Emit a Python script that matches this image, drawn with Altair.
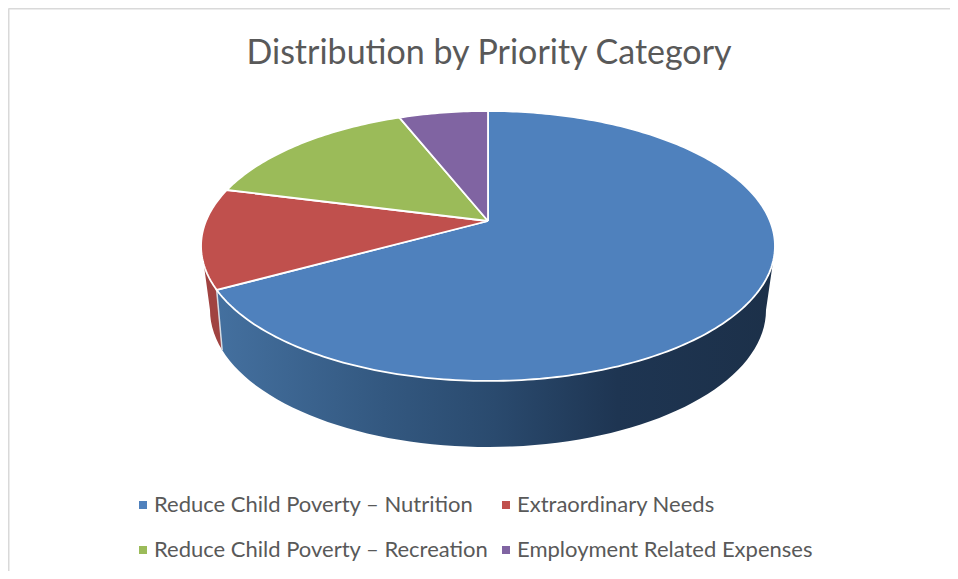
import numpy as np
import pandas as pd
import altair as alt

categories = ["Reduce Child Poverty – Nutrition", "Extraordinary Needs",
              "Reduce Child Poverty – Recreation", "Employment Related Expenses"]
values = [67, 12, 15, 6]
colors = ["#4f81bd", "#c0504d", "#9bbb59", "#8064a2"]
title_text = "Distribution by Priority Category"

W, H = 942, 563
M = 8
CX, CY = 488 - M, 246 - M
A, B, C, P = 282.0, 135.0, 25.0, 0.185
BX, BY, BCY = 278.0, 137.0, 310 - M


def top(theta):
    t = np.radians(theta)
    u, v = np.sin(t), np.cos(t)
    d = 1 + P * v
    return CX + A * u / d, CY - (B * v + C) / d


def bottom(phi):
    t = np.radians(phi)
    return CX + BX * np.sin(t), BCY - BY * np.cos(t)


def frame(xs, ys, name=None):
    xs, ys = np.asarray(xs), np.asarray(ys)
    d = pd.DataFrame({"x": xs, "y": ys, "i": np.arange(len(xs))})
    if name is not None:
        d["name"] = name
    return d


# top face wedges, from the values
rows = []
edges = 360 * np.cumsum([0] + values) / sum(values)
apex = (CX, CY - C)
for name, a0, a1 in zip(categories, edges[:-1], edges[1:]):
    th = np.linspace(a0, a1, int(a1 - a0) + 2)
    px, py = top(th)
    xs = [apex[0], *px, apex[0]]
    ys = [apex[1], *py, apex[1]]
    rows.append(frame(xs, ys, name))
wedges = pd.concat(rows, ignore_index=True)

split = edges[1]
# blue wall
th = np.linspace(107, split, 70)
phi = np.linspace(253, 90, 70)
tx, ty = top(th)
bx, by = bottom(phi)
blue_wall = frame([*tx, *bx, tx[0]], [*ty, *by, ty[0]])
# red wall
th = np.linspace(split, 251.5, 8)
phi = np.linspace(270, 253, 8)
tx, ty = top(th)
bx, by = bottom(phi)
red_wall = frame([*tx, *bx, tx[0]], [*ty, *by, ty[0]])
# seam between the walls
tx, ty = top(split)
bx, by = bottom(253)
seam = frame([tx, bx], [ty, by])

x = alt.X("x:Q", scale=alt.Scale(domain=[0, W], nice=False, zero=False),
          axis=alt.Axis(orient="top", labels=False, ticks=False, grid=False, title=None,
                        domainColor="#d9d9d9", domainWidth=2))
y = alt.Y("y:Q", scale=alt.Scale(domain=[0, H], nice=False, zero=False, reverse=True),
          axis=alt.Axis(orient="left", labels=False, ticks=False, grid=False, title=None,
                        domainColor="#d9d9d9", domainWidth=2))
order = alt.Order("i:Q")

gradient = alt.LinearGradient(
    gradient="linear", x1=0, x2=1, y1=0, y2=0,
    stops=[alt.GradientStop(offset=0, color="#44709f"),
           alt.GradientStop(offset=0.3, color="#335880"),
           alt.GradientStop(offset=0.5, color="#2a4a6e"),
           alt.GradientStop(offset=0.72, color="#1e3552"),
           alt.GradientStop(offset=1, color="#1c3049")])

blue_layer = alt.Chart(blue_wall).mark_line(fill=gradient, strokeWidth=0).encode(x=x, y=y, order=order)
red_layer = alt.Chart(red_wall).mark_line(fill="#a04341", strokeWidth=0).encode(x=x, y=y, order=order)
seam_layer = alt.Chart(seam).mark_line(stroke="#d5dbe3", strokeWidth=1.5).encode(x=x, y=y, order=order)
top_layer = alt.Chart(wedges).mark_line(stroke="#ffffff", strokeWidth=1.8).encode(
    x=x, y=y, order=order,
    fill=alt.Fill("name:N",
                  scale=alt.Scale(domain=categories, range=colors),
                  legend=alt.Legend(orient="none", legendX=124, legendY=486, columns=2, title=None,
                                    direction="horizontal",
                                    symbolType="square", symbolSize=64, symbolStrokeWidth=0,
                                    labelFont="Lato", labelFontSize=22, labelColor="#595959",
                                    labelOffset=0, labelLimit=400, columnPadding=6, rowPadding=23)),
)

chart = alt.layer(blue_layer, red_layer, seam_layer, top_layer).properties(
    width=W, height=H,
    padding=0,
    autosize=alt.AutoSizeParams(type="none"),
    title=alt.Title(title_text, font="Lato", fontSize=34, fontWeight="normal", color="#595959",
                    anchor="middle", dx=10, offset=-63),
).configure_view(stroke=None)

chart.save("out.html", embed_options={"renderer": "svg", "actions": False})
